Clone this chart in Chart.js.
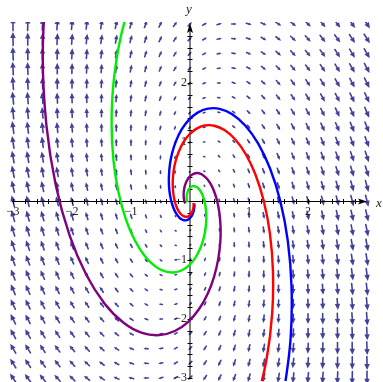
<!DOCTYPE html>
<html>
<head>
<meta charset="utf-8">
<script src="https://cdn.jsdelivr.net/npm/chart.js@4.4.1/dist/chart.umd.min.js"></script>
<style>
  html, body { margin: 0; padding: 0; background: #ffffff; }
  #wrap { width: 383px; height: 382px; position: relative; }
</style>
</head>
<body>
<div id="wrap"><canvas id="phase" width="383" height="382"></canvas></div>
<script>
// Linear system  x' = a*x + b*y ,  y' = c*x + d*y
const systemMatrix = [[1, 1], [-4, 1]];

// Direction-field sample positions
const gridX = [-3, -2.75, -2.5, -2.25, -2, -1.75, -1.5, -1.25, -1, -0.75, -0.5, -0.25, 0,
               0.25, 0.5, 0.75, 1, 1.25, 1.5, 1.75, 2, 2.25, 2.5, 2.75, 3];
const gridY = [-3, -2.75, -2.5, -2.25, -2, -1.75, -1.5, -1.25, -1, -0.75, -0.5, -0.25, 0,
               0.25, 0.5, 0.75, 1, 1.25, 1.5, 1.75, 2, 2.25, 2.5, 2.75, 3];

// Axis extents, labelled ticks and minor tick marks
const xRange = [-3, 3];
const yRange = [-3, 3];
const xTickLabels = [-3, -2, -1, 1, 2];
const yTickLabels = [-3, -2, -1, 1, 2];
const minorTicks = [-3, -2.8, -2.6, -2.4, -2.2, -2, -1.8, -1.6, -1.4, -1.2, -1, -0.8, -0.6, -0.4, -0.2,
                    0.2, 0.4, 0.6, 0.8, 1, 1.2, 1.4, 1.6, 1.8, 2, 2.2, 2.4, 2.6, 2.8];

// Solution curves (x, y)
const greenCurve = [
  [-0.043, -0.023], [-0.049, -0.006], [-0.054, 0.015], [-0.057, 0.041], [-0.057, 0.069],
  [-0.054, 0.100], [-0.048, 0.132], [-0.038, 0.164], [-0.023, 0.194], [-0.003, 0.220],
  [0.021, 0.240], [0.049, 0.251], [0.080, 0.250], [0.114, 0.236], [0.150, 0.205],
  [0.185, 0.156], [0.217, 0.088], [0.245, 0.000], [0.265, -0.108], [0.276, -0.233],
  [0.273, -0.374], [0.255, -0.524], [0.218, -0.680], [0.162, -0.832], [0.084, -0.972],
  [-0.016, -1.090], [-0.137, -1.174], [-0.277, -1.211], [-0.433, -1.190], [-0.600, -1.099],
  [-0.770, -0.927], [-0.936, -0.666], [-1.087, -0.310], [-1.211, 0.142], [-1.297, 0.685],
  [-1.329, 1.312], [-1.296, 2.005], [-1.183, 2.740], [-0.981, 3.488]
];
const purpleCurve = [
  [-0.081, -0.043], [-0.093, -0.011], [-0.102, 0.029], [-0.107, 0.076], [-0.107, 0.129],
  [-0.102, 0.187], [-0.090, 0.248], [-0.070, 0.308], [-0.043, 0.364], [-0.006, 0.413],
  [0.039, 0.450], [0.092, 0.471], [0.151, 0.470], [0.215, 0.442], [0.281, 0.385],
  [0.347, 0.293], [0.408, 0.165], [0.460, 0.000], [0.498, -0.202], [0.518, -0.438],
  [0.513, -0.701], [0.478, -0.985], [0.410, -1.276], [0.304, -1.562], [0.157, -1.826],
  [-0.030, -2.047], [-0.257, -2.204], [-0.520, -2.274], [-0.813, -2.235], [-1.126, -2.063],
  [-1.446, -1.740], [-1.758, -1.250], [-2.041, -0.582], [-2.275, 0.266], [-2.434, 1.287],
  [-2.496, 2.463], [-2.433, 3.764]
];
const redCurve = [
  [0.060, -0.035], [0.061, -0.064], [0.059, -0.096], [0.053, -0.130], [0.044, -0.164],
  [0.029, -0.197], [0.010, -0.226], [-0.014, -0.249], [-0.043, -0.264], [-0.075, -0.267],
  [-0.111, -0.256], [-0.148, -0.229], [-0.185, -0.183], [-0.221, -0.117], [-0.252, -0.030],
  [-0.276, 0.079], [-0.290, 0.207], [-0.292, 0.351], [-0.278, 0.509], [-0.245, 0.673],
  [-0.191, 0.836], [-0.116, 0.990], [-0.016, 1.123], [0.106, 1.223], [0.249, 1.279],
  [0.410, 1.276], [0.584, 1.202], [0.764, 1.046], [0.943, 0.797], [1.109, 0.449],
  [1.250, 0.000], [1.354, -0.549], [1.406, -1.189], [1.393, -1.906], [1.299, -2.675],
  [1.114, -3.468]
];
const blueCurve = [
  [0.073, -0.043], [0.075, -0.078], [0.072, -0.118], [0.065, -0.159], [0.053, -0.201],
  [0.036, -0.241], [0.012, -0.277], [-0.017, -0.305], [-0.052, -0.323], [-0.092, -0.327],
  [-0.135, -0.313], [-0.181, -0.280], [-0.227, -0.224], [-0.270, -0.143], [-0.308, -0.036],
  [-0.338, 0.096], [-0.356, 0.253], [-0.357, 0.430], [-0.340, 0.623], [-0.300, 0.824],
  [-0.234, 1.024], [-0.141, 1.212], [-0.020, 1.374], [0.129, 1.498], [0.304, 1.565],
  [0.501, 1.562], [0.715, 1.471], [0.936, 1.280], [1.154, 0.976], [1.357, 0.550],
  [1.530, 0.000], [1.657, -0.672], [1.721, -1.455], [1.705, -2.332], [1.590, -3.275]
];

const FIELD_COLOR = '#41419a';
const ARROW_MAX = 13.5;   // px, longest arrow
const ARROW_POWER = 0.7;  // length grows sub-linearly with speed
const SERIF = '"Liberation Serif", "DejaVu Serif", serif';

const toXY = arr => arr.map(p => ({ x: p[0], y: p[1] }));
const fieldPoints = [];
for (const gx of gridX) for (const gy of gridY) fieldPoints.push({ x: gx, y: gy });

// Arrows of the direction field, placed through the chart scales
const directionField = {
  id: 'directionField',
  beforeDatasetsDraw(chart) {
    const { ctx, scales } = chart;
    const sx = scales.x, sy = scales.y;
    const ux = sx.getPixelForValue(1) - sx.getPixelForValue(0);
    const uy = sy.getPixelForValue(1) - sy.getPixelForValue(0);
    const pts = chart.data.datasets[0].data;
    let fmax = 0;
    const vecs = pts.map(p => {
      const u = systemMatrix[0][0] * p.x + systemMatrix[0][1] * p.y;
      const v = systemMatrix[1][0] * p.x + systemMatrix[1][1] * p.y;
      const m = Math.hypot(u, v);
      if (m > fmax) fmax = m;
      return { cx: sx.getPixelForValue(p.x), cy: sy.getPixelForValue(p.y), du: u * ux, dv: v * uy, m };
    });
    ctx.save();
    ctx.beginPath();
    ctx.rect(0, chart.chartArea.top - 2, chart.width, chart.height);
    ctx.clip();
    ctx.fillStyle = FIELD_COLOR;
    ctx.strokeStyle = FIELD_COLOR;
    ctx.lineCap = 'round';
    for (const a of vecs) {
      if (a.m === 0) continue;
      const L = ARROW_MAX * Math.pow(a.m / fmax, ARROW_POWER);
      const k = Math.hypot(a.du, a.dv);
      const ex = a.du / k, ey = a.dv / k;
      const tx = a.cx + ex * L / 2, ty = a.cy + ey * L / 2;
      const bx = a.cx - ex * L / 2, by = a.cy - ey * L / 2;
      const hl = Math.min(6, L * 0.55), hw = hl * 0.45;
      const hx = tx - ex * hl, hy = ty - ey * hl;
      ctx.lineWidth = 1.6;
      ctx.beginPath();
      ctx.moveTo(bx, by);
      ctx.lineTo(hx, hy);
      ctx.stroke();
      ctx.beginPath();
      ctx.moveTo(tx, ty);
      ctx.lineTo(hx - ey * hw, hy + ex * hw);
      ctx.lineTo(hx + ey * hw, hy - ex * hw);
      ctx.closePath();
      ctx.fill();
    }
    ctx.restore();
  }
};

// Axes through the origin with arrowheads, ticks and labels
const crossAxes = {
  id: 'crossAxes',
  beforeDatasetsDraw(chart) {
    const { ctx, scales } = chart;
    const sx = scales.x, sy = scales.y;
    const x0 = sx.getPixelForValue(0), y0 = Math.round(sy.getPixelForValue(0)) + 0.5;
    const xl = sx.getPixelForValue(xRange[0]), xr = sx.getPixelForValue(xRange[1]);
    const yt = sy.getPixelForValue(yRange[1]), yb = sy.getPixelForValue(yRange[0]);
    ctx.save();
    ctx.strokeStyle = '#000';
    ctx.fillStyle = '#000';
    ctx.lineWidth = 1;
    // x axis
    ctx.beginPath(); ctx.moveTo(xl - 1, y0); ctx.lineTo(xr - 6, y0); ctx.stroke();
    ctx.beginPath(); ctx.moveTo(xr, y0); ctx.lineTo(xr - 9, y0 - 3); ctx.lineTo(xr - 7, y0); ctx.lineTo(xr - 9, y0 + 3); ctx.closePath(); ctx.fill();
    // y axis
    ctx.beginPath(); ctx.moveTo(x0, yb); ctx.lineTo(x0, yt + 6); ctx.stroke();
    ctx.beginPath(); ctx.moveTo(x0, yt - 1); ctx.lineTo(x0 - 3, yt + 9); ctx.lineTo(x0, yt + 7); ctx.lineTo(x0 + 3, yt + 9); ctx.closePath(); ctx.fill();
    // minor ticks
    ctx.lineWidth = 1;
    for (const t of minorTicks) {
      const px = Math.round(sx.getPixelForValue(t)) + 0.5;
      ctx.beginPath(); ctx.moveTo(px, y0 - 2.5); ctx.lineTo(px, y0 + 2.5); ctx.stroke();
      const py = Math.round(sy.getPixelForValue(t)) + 0.5;
      ctx.beginPath(); ctx.moveTo(x0 - 2.5, py); ctx.lineTo(x0 + 2.5, py); ctx.stroke();
    }
    // tick labels
    ctx.fillStyle = '#222';
    ctx.font = '12px ' + SERIF;
    ctx.textAlign = 'center';
    ctx.textBaseline = 'top';
    for (const t of xTickLabels) {
      ctx.fillText(t < 0 ? '\u2212' + Math.abs(t) : String(t), sx.getPixelForValue(t), y0 + 4);
    }
    ctx.textAlign = 'right';
    ctx.textBaseline = 'middle';
    for (const t of yTickLabels) {
      ctx.fillText(t < 0 ? '\u2212' + Math.abs(t) : String(t), x0 - 3, sy.getPixelForValue(t));
    }
    // axis names
    ctx.font = 'italic 13px ' + SERIF;
    ctx.textAlign = 'center';
    ctx.textBaseline = 'middle';
    ctx.fillText('y', x0 - 1, yt - 14);
    ctx.fillText('x', xr + 12, y0 + 2);
    ctx.restore();
  }
};

const curveStyle = (color, pts) => ({
  data: toXY(pts),
  showLine: true,
  borderColor: color,
  borderWidth: 2.4,
  pointRadius: 0,
  tension: 0.4,
  fill: false,
  clip: { left: 2, top: 2, right: 2, bottom: 3 }
});

new Chart(document.getElementById('phase'), {
  type: 'scatter',
  data: {
    datasets: [
      { data: fieldPoints, pointRadius: 0, showLine: false },
      curveStyle('#00ee00', greenCurve),
      curveStyle('#800080', purpleCurve),
      curveStyle('#ff0000', redCurve),
      curveStyle('#0000ff', blueCurve)
    ]
  },
  options: {
    responsive: false,
    animation: false,
    events: [],
    layout: { padding: { left: 13, right: 16, top: 24, bottom: 4 } },
    elements: { line: { capBezierPoints: false } },
    scales: {
      x: { type: 'linear', min: xRange[0], max: xRange[1], display: false },
      y: { type: 'linear', min: yRange[0], max: yRange[1], display: false }
    },
    plugins: { legend: { display: false }, tooltip: { enabled: false } }
  },
  plugins: [directionField, crossAxes]
});
</script>
</body>
</html>
